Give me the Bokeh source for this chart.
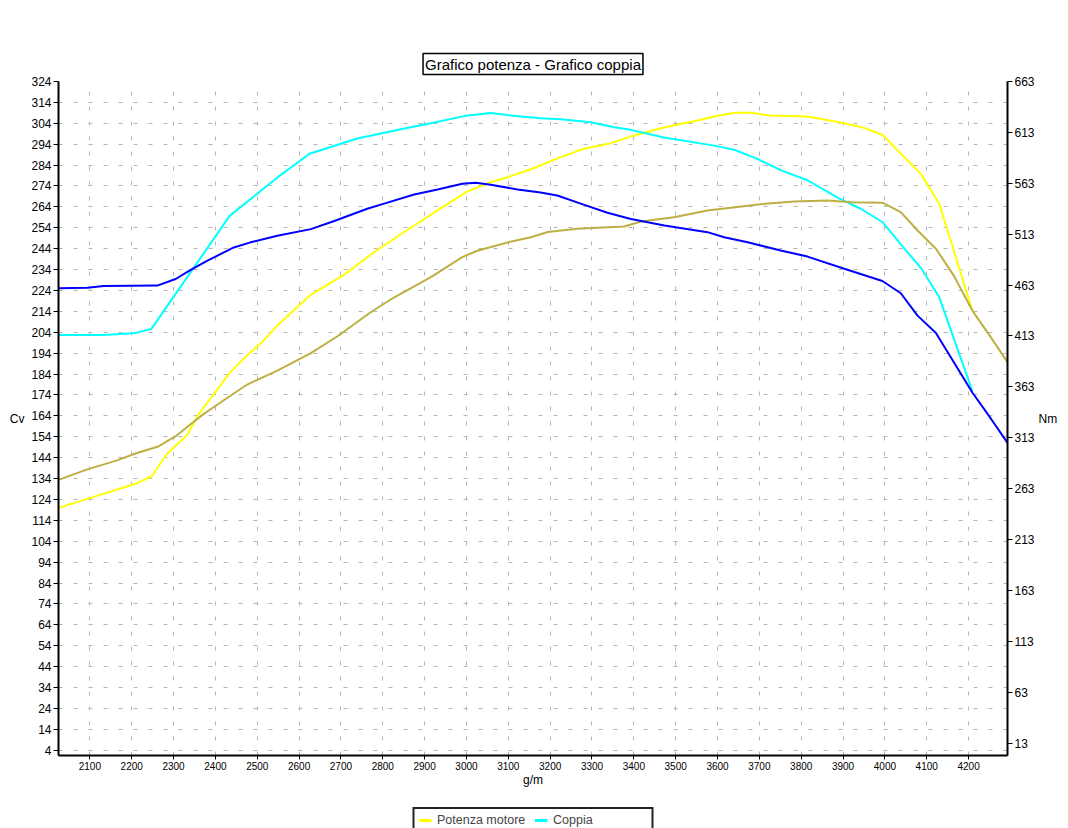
from bokeh.plotting import figure
from bokeh.models import Range1d, LinearAxis, FixedTicker, Legend, LegendItem
from bokeh.layouts import column
from bokeh.embed import file_html
from bokeh.resources import INLINE

FONT = "Liberation Sans"

# Potenza motore (Cv) - yellow
rpm_potenza = [2025, 2094, 2209, 2247, 2285, 2333, 2357, 2397, 2434, 2476, 2512, 2548,
               2628, 2707, 2779, 2851, 2931, 3002, 3058, 3098, 3154, 3225, 3281, 3345,
               3401, 3472, 3552, 3596, 3640, 3679, 3727, 3815, 3903, 3950, 3994, 4086,
               4130, 4209]
cv_potenza = [120, 124.3, 131.5, 135, 146, 155, 164, 174.6, 184.6, 193, 199.3, 207.3,
              222, 231.5, 242.3, 252, 262.3, 271.4, 275.8, 278.2, 282, 287.8, 291.8, 294.5,
              298.2, 302, 305.3, 307.4, 309, 309, 307.7, 307.3, 304, 301.8, 298.5, 279.8,
              265.5, 214.4]

# Coppia (Nm) - cyan
rpm_coppia = [2025, 2133, 2209, 2247, 2434, 2552, 2625, 2739, 2843, 2915, 2994, 3058,
              3098, 3177, 3225, 3297, 3353, 3393, 3472, 3592, 3640, 3695, 3751, 3815,
              3887, 3942, 3994, 4038, 4086, 4130, 4209]
nm_coppia = [414, 414, 416, 420, 531, 570, 592, 607, 616, 622, 629, 632,
             630, 627, 626, 623, 618, 615.5, 608, 600, 596, 587, 576, 566,
             549, 538, 525, 503, 480, 451, 359]

# Potenza (Cv) - second run, olive
rpm_potenza2 = [2025, 2094, 2165, 2209, 2265, 2305, 2337, 2369, 2434, 2476, 2548, 2628,
                2691, 2771, 2819, 2915, 2990, 3026, 3098, 3154, 3194, 3265, 3377, 3417,
                3496, 3576, 3632, 3703, 3783, 3863, 3919, 3994, 4038, 4078, 4122, 4165,
                4209, 4253, 4293]
cv_potenza2 = [133.4, 138.4, 142.7, 146, 149.5, 154.3, 159.4, 164.5, 173.4, 179, 185.7, 194,
               202, 213.6, 219.7, 230.4, 240, 243, 247, 249.5, 252, 253.5, 254.6, 257,
               259, 262.3, 263.6, 265.3, 266.6, 267.1, 266.2, 266, 261.5, 252.7, 244, 231,
               214.4, 201.7, 189.7]

# Coppia (Nm) - second run, blue
rpm_coppia2 = [2025, 2094, 2133, 2261, 2305, 2341, 2381, 2444, 2484, 2548, 2628, 2684,
               2763, 2803, 2875, 2931, 2990, 3022, 3058, 3122, 3177, 3217, 3273, 3337,
               3393, 3473, 3576, 3616, 3672, 3751, 3815, 3903, 3994, 4038, 4078, 4122,
               4209, 4253, 4293]
nm_coppia2 = [460, 460.5, 462, 462.5, 469, 478, 487, 500, 505, 511.5, 518, 526,
              538, 543, 552, 557, 562.5, 563.5, 561.5, 557, 554, 551, 543, 534,
              528, 521.5, 515, 510, 505, 497, 491, 479, 467, 455, 433, 416,
              357.5, 332, 308]

x_ticks = [2100, 2200, 2300, 2400, 2500, 2600, 2700, 2800, 2900, 3000, 3100,
           3200, 3300, 3400, 3500, 3600, 3700, 3800, 3900, 4000, 4100, 4200]
cv_ticks = [4, 14, 24, 34, 44, 54, 64, 74, 84, 94, 104, 114, 124, 134, 144, 154,
            164, 174, 184, 194, 204, 214, 224, 234, 244, 254, 264, 274, 284, 294,
            304, 314, 324]
nm_ticks = [13, 63, 113, 163, 213, 263, 313, 363, 413, 463, 513, 563, 613, 663]

title_text = "Grafico potenza - Grafico coppia"
x_label = "g/m"
left_label = "Cv"
right_label = "Nm"
legend_labels = ["Potenza motore", "Coppia"]

COL_POT = "#FFFF00"
COL_COP = "#00FFFF"
COL_POT2 = "#BDB043"
COL_COP2 = "#0000FF"
GRID = "#b4b4b4"

p = figure(width=1068, height=807,
           x_range=Range1d(2025, 4293), y_range=Range1d(1.5, 324),
           output_backend="svg", toolbar_location=None,
           min_border_left=58, min_border_right=61,
           min_border_top=81, min_border_bottom=52)
p.outline_line_color = None
p.background_fill_color = "white"
p.border_fill_color = "white"
p.extra_y_ranges = {"nm": Range1d(0.9, 663)}

# title in a framed box
p.title.text = title_text
p.title.align = "center"
p.title.text_font = FONT
p.title.text_font_size = "15px"
p.title.text_font_style = "normal"
p.title.text_color = "black"
p.title.border_line_color = "black"
p.title.border_line_width = 1.5
p.title.background_fill_color = "white"
p.title.padding = 2
p.title.standoff = 14
p.title.offset = 2

right_axis = LinearAxis(y_range_name="nm", ticker=FixedTicker(ticks=nm_ticks))
p.add_layout(right_axis, "right")

p.xaxis.ticker = FixedTicker(ticks=x_ticks)
p.yaxis[0].ticker = FixedTicker(ticks=cv_ticks)

for ax in [p.xaxis[0], p.yaxis[0], right_axis]:
    ax.axis_line_color = "black"
    ax.axis_line_width = 2
    ax.major_tick_in = 0
    ax.major_tick_out = 5
    ax.minor_tick_in = 0
    ax.minor_tick_out = 0
    ax.major_tick_line_color = "black"
    ax.major_label_text_font = FONT
    ax.major_label_text_color = "black"
    ax.major_label_standoff = 2
    ax.axis_label_text_font = FONT
    ax.axis_label_text_font_style = "normal"
    ax.axis_label_text_font_size = "12px"
    ax.axis_label_text_color = "black"

p.xaxis.major_label_text_font_size = "10px"
p.yaxis[0].major_label_text_font_size = "12px"
right_axis.major_label_text_font_size = "12px"
p.xaxis.major_tick_out = 4
p.xaxis.axis_label = x_label
p.xaxis.axis_label_standoff = 0

p.yaxis[0].axis_label = left_label
p.yaxis[0].axis_label_orientation = "horizontal"
p.yaxis[0].axis_label_standoff = 4
right_axis.axis_label = right_label
right_axis.axis_label_orientation = "horizontal"
right_axis.axis_label_standoff = 1

p.xgrid.ticker = FixedTicker(ticks=x_ticks)
p.ygrid.ticker = FixedTicker(ticks=cv_ticks)
p.xgrid.grid_line_color = GRID
p.ygrid.grid_line_color = GRID
p.xgrid.grid_line_dash = "4 11"
p.ygrid.grid_line_dash = "4 11"
p.xgrid.grid_line_width = 1
p.ygrid.grid_line_width = 1

p.line(rpm_potenza, cv_potenza, line_color=COL_POT, line_width=2)
p.line(rpm_coppia, nm_coppia, line_color=COL_COP, line_width=2, y_range_name="nm")
p.line(rpm_potenza2, cv_potenza2, line_color=COL_POT2, line_width=2)
p.line(rpm_coppia2, nm_coppia2, line_color=COL_COP2, line_width=2, y_range_name="nm")

# legend strip below the chart (its sample lines sit outside the strip's view)
q = figure(width=1068, height=21, x_range=Range1d(0, 1), y_range=Range1d(0, 1),
           output_backend="svg", toolbar_location=None,
           x_axis_type=None, y_axis_type=None,
           min_border_left=0, min_border_right=0, min_border_top=0, min_border_bottom=0)
q.outline_line_color = None
q.xgrid.visible = False
q.ygrid.visible = False
q.background_fill_color = "white"
q.border_fill_color = "white"
lr_pot = q.line(x=[5, 6], y=[5, 6], line_color=COL_POT, line_width=3)
lr_cop = q.line(x=[5, 6], y=[5, 6], line_color=COL_COP, line_width=3)

legend = Legend(items=[LegendItem(label=legend_labels[0], renderers=[lr_pot]),
                       LegendItem(label=legend_labels[1], renderers=[lr_cop])],
                location="top_center", orientation="horizontal",
                border_line_color="#222222", border_line_width=2, border_line_alpha=1,
                background_fill_color="white", background_fill_alpha=1,
                label_text_font=FONT, label_text_font_size="12.5px",
                glyph_width=13, glyph_height=12, label_standoff=6, spacing=3,
                padding=4, margin=0, label_width=94)
q.add_layout(legend, "center")

layout = column(p, q, spacing=0)
open("out.html", "w").write(file_html(layout, INLINE))
